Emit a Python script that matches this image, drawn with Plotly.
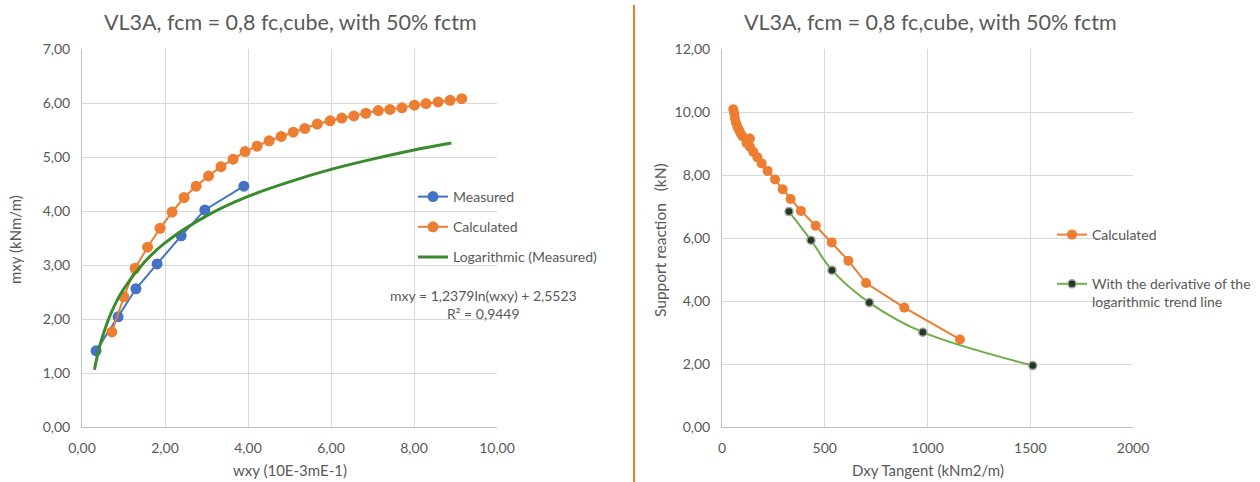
import plotly.graph_objects as go

# ---------------- data ----------------
TITLE = "VL3A, fcm = 0,8 fc,cube, with 50% fctm"

meas_x = [0.34, 0.87, 1.30, 1.81, 2.39, 2.96, 3.90]
meas_y = [1.41, 2.04, 2.56, 3.02, 3.54, 4.02, 4.46]

calc_x = [0.72, 1.01, 1.28, 1.58, 1.88, 2.17, 2.46, 2.75, 3.05, 3.35, 3.64, 3.93, 4.22,
          4.51, 4.80, 5.09, 5.37, 5.67, 5.98, 6.26, 6.55, 6.84, 7.14, 7.42, 7.71, 8.01,
          8.29, 8.58, 8.87, 9.15]
calc_y = [1.76, 2.41, 2.94, 3.33, 3.68, 3.98, 4.25, 4.46, 4.65, 4.82, 4.96, 5.10, 5.20,
          5.30, 5.38, 5.46, 5.53, 5.61, 5.67, 5.72, 5.76, 5.81, 5.86, 5.88, 5.91, 5.96,
          5.99, 6.02, 6.05, 6.08]

trend_x = [0.30, 0.40, 0.50, 0.70, 1.00, 1.50, 2.00, 3.00, 4.00, 5.00, 6.00, 7.00, 8.00, 8.90]
trend_y = [1.06, 1.42, 1.69, 2.11, 2.55, 3.05, 3.41, 3.91, 4.27, 4.54, 4.77, 4.96, 5.13, 5.26]

sup_calc_x = [55, 60, 63, 68, 75, 83, 91, 100, 136, 120, 136, 152, 172, 193, 222, 258,
              295, 334, 384, 456, 534, 615, 701, 887, 1158]
sup_calc_y = [10.09, 9.96, 9.80, 9.66, 9.53, 9.43, 9.32, 9.22, 9.16, 9.01, 8.90, 8.74,
              8.56, 8.37, 8.13, 7.86, 7.55, 7.24, 6.86, 6.39, 5.86, 5.28, 4.57, 3.79, 2.78]

sup_deriv_x = [326, 433, 535, 717, 977, 1512]
sup_deriv_y = [6.84, 5.93, 4.98, 3.95, 3.01, 1.95]

EQ_TEXT = "mxy = 1,2379ln(wxy) + 2,5523"
R2_TEXT = "R² = 0,9449"

X1_TITLE = "wxy (10E-3mE-1)"
Y1_TITLE = "mxy (kNm/m)"
X2_TITLE = "Dxy Tangent (kNm2/m)"
Y2_TITLE = "Support reaction\u00a0\u00a0\u00a0(kN)"

# ---------------- style ----------------
FONT = "Lato"
GREY = "#595959"
BLUE = "#4472C4"
ORANGE = "#ED7D31"
TREND = "#3A8A2E"
LGREEN = "#70AD47"
GRID = "#D9D9D9"
AXIS = "#BFBFBF"
W, H = 1260, 482


def px(x):
    return x / W


def py(y):
    return 1 - y / H


fig = go.Figure()

fig.add_trace(go.Scatter(x=meas_x, y=meas_y, name="Measured", mode="lines+markers",
                         line=dict(color=BLUE, width=2), marker=dict(color=BLUE, size=11),
                         xaxis="x", yaxis="y", legend="legend", legendgroup="a"))
fig.add_trace(go.Scatter(x=calc_x, y=calc_y, name="Calculated", mode="lines+markers",
                         line=dict(color=ORANGE, width=2), marker=dict(color=ORANGE, size=11),
                         xaxis="x", yaxis="y", legend="legend", legendgroup="b"))
fig.add_trace(go.Scatter(x=trend_x, y=trend_y, name="Logarithmic (Measured)", mode="lines",
                         line=dict(color=TREND, width=3, shape="spline"),
                         xaxis="x", yaxis="y", legend="legend", legendgroup="c"))

fig.add_trace(go.Scatter(x=sup_calc_x, y=sup_calc_y, name="Calculated", mode="lines+markers",
                         line=dict(color=ORANGE, width=2), marker=dict(color=ORANGE, size=10),
                         xaxis="x2", yaxis="y2", legend="legend2", legendgroup="d"))
fig.add_trace(go.Scatter(x=sup_deriv_x, y=sup_deriv_y,
                         name="With the derivative of the<br>logarithmic trend line",
                         mode="lines+markers",
                         line=dict(color=LGREEN, width=2, shape="spline"),
                         marker=dict(color="#1F3A1F", size=8, line=dict(color="#9E9E9E", width=1.5)),
                         xaxis="x2", yaxis="y2", legend="legend2", legendgroup="e"))

ydom = [py(427), py(49)]
axis_common = dict(showgrid=True, gridcolor=GRID, gridwidth=1, zeroline=False,
                   showline=True, linecolor=AXIS, linewidth=1, ticks="",
                   automargin=False, ticklabelstandoff=8,
                   tickfont=dict(family=FONT, size=14, color=GREY))

fig.update_layout(
    width=W, height=H,
    margin=dict(l=0, r=0, t=0, b=0, pad=0),
    paper_bgcolor="white", plot_bgcolor="white",
    separators=",.",
    font=dict(family=FONT, color=GREY, size=14),
    xaxis=dict(domain=[px(82), px(497)], range=[0, 10], dtick=2, tickformat=".2f",
               anchor="y", **axis_common),
    yaxis=dict(domain=ydom, range=[0, 7], dtick=1, tickformat=".2f", anchor="x",
               **axis_common),
    xaxis2=dict(domain=[px(722), px(1133)], range=[0, 2000], dtick=500, tickformat="d",
                anchor="y2", **axis_common),
    yaxis2=dict(domain=ydom, range=[0, 12], dtick=2, tickformat=".2f", anchor="x2",
                **axis_common),
    legend=dict(x=px(413), y=py(181), xanchor="left", yanchor="top",
                bgcolor="rgba(0,0,0,0)", tracegroupgap=9, itemwidth=30,
                font=dict(family=FONT, size=14, color=GREY)),
    legend2=dict(x=px(1052), y=py(219), xanchor="left", yanchor="top",
                 bgcolor="rgba(0,0,0,0)", tracegroupgap=28, itemwidth=30, valign="top",
                 font=dict(family=FONT, size=14, color=GREY)),
    showlegend=True,
)

ann_common = dict(xref="paper", yref="paper", showarrow=False,
                  xanchor="center", yanchor="middle")

for cx in (290, 930):
    fig.add_annotation(text=TITLE, x=px(cx), y=py(22),
                       font=dict(family=FONT, size=21.5, color=GREY), **ann_common)

fig.add_annotation(text=EQ_TEXT + "<br>" + R2_TEXT, x=px(483), y=py(304), align="center",
                   font=dict(family=FONT, size=14, color=GREY), **ann_common)

# axis titles
fig.add_annotation(text=X1_TITLE, x=px(290), y=py(470),
                   font=dict(family=FONT, size=15, color=GREY), **ann_common)
fig.add_annotation(text=X2_TITLE, x=px(928), y=py(470),
                   font=dict(family=FONT, size=15, color=GREY), **ann_common)
fig.add_annotation(text=Y1_TITLE, x=px(15), y=py(240), textangle=-90,
                   font=dict(family=FONT, size=15, color=GREY), **ann_common)
fig.add_annotation(text=Y2_TITLE, x=px(660), y=py(240), textangle=-90,
                   font=dict(family=FONT, size=15.5, color=GREY), **ann_common)

fig.add_shape(type="line", xref="paper", yref="paper", x0=px(634), x1=px(634),
              y0=0, y1=py(5), line=dict(color=ORANGE, width=2))

fig.write_html("out.html",
               config={"displayModeBar": False},
               post_script="document.body.style.margin='0';"
                           "document.body.style.overflow='hidden';")
